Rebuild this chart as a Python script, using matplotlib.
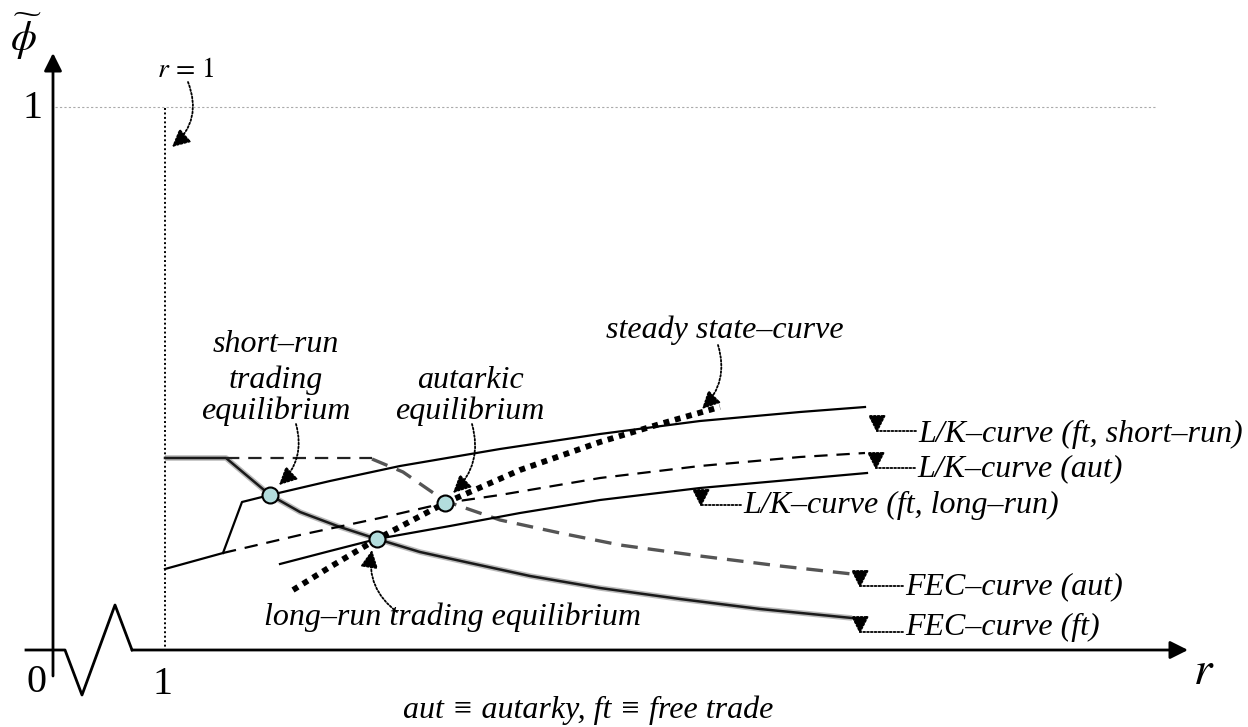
import matplotlib
matplotlib.use('Agg')
import matplotlib.pyplot as plt

# diagram units (r to the right, phi downwards as drawn on the page)
# FEC-curve, free trade (flat part then decreasing)
fec_ft_r = [165, 226, 245, 270, 300, 340, 377, 420, 470, 530, 600, 680, 760, 852]
fec_ft_p = [458, 458, 474, 495, 512, 527, 539, 552, 563, 576, 588, 599, 609, 618]

# FEC-curve, autarky
fec_aut_flat_r = [226, 372]
fec_aut_flat_p = [458, 458]
fec_aut_r = [372, 403, 445, 500, 560, 620, 700, 780, 852]
fec_aut_p = [459, 472, 501, 520, 533, 545, 556, 566, 574]

# L/K-curves
lk_base_r = [165, 223]
lk_base_p = [569, 553]
lk_sr_r = [223, 242, 270, 330, 400, 500, 600, 700, 800, 865]
lk_sr_p = [553, 502, 495, 481, 466, 449, 434, 421, 412, 407]
lk_aut_r = [223, 300, 380, 445, 500, 600, 700, 800, 865]
lk_aut_p = [553, 535, 518, 503, 495, 478, 466, 457, 453]
lk_lr_r = [280, 330, 377, 450, 520, 600, 700, 800, 867]
lk_lr_p = [564, 551, 539, 526, 513, 500, 488, 479, 473]

# steady state-curve
ss_r = [293, 330, 377, 445, 520, 600, 660, 720]
ss_p = [590, 567, 539, 503, 470, 442, 424, 407]

# equilibria: short-run trade, long-run trade, autarky
eq_r = [270, 377, 445]
eq_p = [495, 539, 503]

serif = ['Liberation Serif', 'DejaVu Serif']
plt.rcParams['mathtext.fontset'] = 'stix'

fig = plt.figure(figsize=(12.48, 7.27), dpi=100)
ax = fig.add_axes([0, 0, 1, 1])
ax.set_xlim(0, 1248)
ax.set_ylim(727, 0)
ax.axis('off')

# axes
ax.annotate('', xy=(53, 53), xytext=(53, 676),
            arrowprops=dict(arrowstyle='-|>', lw=2, color='k', mutation_scale=27,
                            shrinkA=0, shrinkB=0))
ax.plot([26, 65, 82, 115, 132], [650, 650, 695, 605, 650], color='k', lw=2)
ax.annotate('', xy=(1188, 650), xytext=(132, 650),
            arrowprops=dict(arrowstyle='-|>', lw=2, color='k', mutation_scale=27,
                            shrinkA=0, shrinkB=0))

# reference lines
ax.plot([55, 1155], [107, 107], color='#aaaaaa', lw=0.8, ls=(0, (2, 2)))
ax.plot([165, 165], [108, 650], color='k', lw=1.4, ls=(0, (1, 1.3)))

# FEC curves (soft grey look)
ax.plot(fec_ft_r, fec_ft_p, color='#777777', lw=4, alpha=0.5, solid_capstyle='butt')
ax.plot(fec_ft_r, fec_ft_p, color='#1a1a1a', lw=1.8)
ax.plot(fec_aut_flat_r, fec_aut_flat_p, color='#222222', lw=1.6, ls=(0, (6, 4)))
ax.plot(fec_aut_r, fec_aut_p, color='#555555', lw=2.4, ls=(0, (5, 3)))

# L/K curves
ax.plot(lk_base_r, lk_base_p, color='k', lw=1.6)
ax.plot(lk_sr_r, lk_sr_p, color='k', lw=1.6)
ax.plot(lk_aut_r, lk_aut_p, color='k', lw=1.6, ls=(0, (6, 4)))
ax.plot(lk_lr_r, lk_lr_p, color='k', lw=1.6)

# steady state curve
ax.plot(ss_r, ss_p, color='k', lw=4.2, ls=(0, (1, 1)))

ax.plot(eq_r, eq_p, 'o', ms=11.5, mfc='#b3dddd', mec='k', mew=1.5, zorder=5)


def note(start, tip, conn):
    ax.annotate('', xy=tip, xytext=start,
                arrowprops=dict(arrowstyle='-|>', lw=1.3, ls=(0, (1, 1.1)), color='k',
                                connectionstyle=conn,
                                mutation_scale=27, shrinkA=0, shrinkB=0))


bend = 'arc3,rad=-0.3'
hook = 'angle3,angleA=0,angleB=90'
txt = dict(family=serif, style='italic', fontsize=23, va='center')

ax.text(276, 345, 'short–run', ha='center', **txt)
ax.text(276, 380, 'trading', ha='center', **txt)
ax.text(276, 411, 'equilibrium', ha='center', **txt)
note((296, 424), (279, 485), bend)

ax.text(470, 380, 'autarkic', ha='center', **txt)
ax.text(470, 411, 'equilibrium', ha='center', **txt)
note((472, 424), (453, 493), bend)

ax.text(725, 330, 'steady state–curve', ha='center', **txt)
note((718, 345), (702, 409), bend)

ax.text(452, 617, 'long–run trading equilibrium', ha='center', **txt)
note((397, 612), (372, 550), bend)

ax.text(918, 434, 'L/K–curve (ft, short–run)', ha='left', **txt)
note((916, 431), (877, 433), hook)
ax.text(917, 469, 'L/K–curve (aut)', ha='left', **txt)
note((915, 468), (876, 470), hook)
ax.text(743, 505, 'L/K–curve (ft, long–run)', ha='left', **txt)
note((741, 505), (701, 507), hook)
ax.text(905, 587, 'FEC–curve (aut)', ha='left', **txt)
note((903, 586), (860, 588), hook)
ax.text(905, 627, 'FEC–curve (ft)', ha='left', **txt)
note((903, 632), (860, 634), hook)

# axis labels
ax.text(32, 109, '1', family=serif, fontsize=29, ha='center', va='center')
ax.text(37, 683, '0', family=serif, fontsize=29, ha='center', va='center')
ax.text(162, 685, '1', family=serif, fontsize=29, ha='center', va='center')
ax.text(1204, 672, r'$r$', fontsize=34, ha='center', va='center')
ax.text(26, 36, r'$\widetilde{\phi}$', fontsize=30, ha='center', va='center')
ax.text(186, 69, r'$r\,=\,1$', fontsize=20, ha='center', va='center')
note((188, 82), (172, 147), 'arc3,rad=-0.35')

ax.text(588, 710, 'aut ≡ autarky, ft ≡ free trade', ha='center', **txt)

fig.savefig('out.png', dpi=100)
